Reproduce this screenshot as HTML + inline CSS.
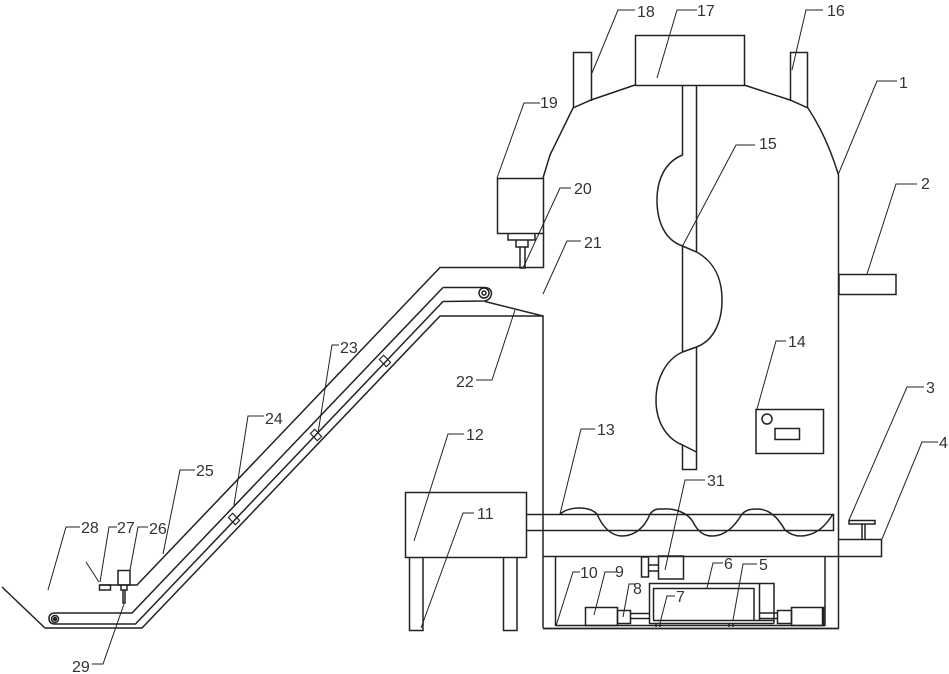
<!DOCTYPE html>
<html><head><meta charset="utf-8"><style>
html,body{margin:0;padding:0;background:#fff}
svg{display:block}
text{font-family:"Liberation Sans",sans-serif;font-size:16px;fill:#333}
.m{fill:none;stroke:#222;stroke-width:1.5}
.l{fill:none;stroke:#222;stroke-width:1}
</style></head><body>
<svg width="949" height="674" viewBox="0 0 949 674" xmlns="http://www.w3.org/2000/svg">
<g class="m">
<rect x="635.5" y="35.5" width="109" height="50"/>
<path d="M573.5 108V52.5H591.5V101"/>
<path d="M790.5 101V52.5H807.5V108"/>
<path d="M635 85L591 100L573 108L550 155L543 178"/>
<path d="M744 85L790 100L808 108Q827 137 838.500 175V628"/>
<rect x="497.500" y="178.500" width="46" height="55"/>
<path d="M508 233V240H535V233M516 240V247H528V240M520 247V268H525V247"/>
<path d="M543.500 233V267.500H440L137 585H100"/>
<rect x="99.500" y="585" width="11" height="5"/>
<rect x="118" y="570.500" width="12" height="14.500"/>
<path d="M121 585V590H127V585M123 590V603H125V590"/>
<path d="M443 287.500H485Q491 288 491.500 293Q491 300 484 301L443 301.500L135.500 624H55Q49 624 49 618.500Q49 613 55 613H132L443 287.500"/>
<path d="M543 628V316H440L142 628H45L2 587"/>
<path d="M543 628.500H839" stroke-width="1.800"/>
<path d="M485 301.500L543 316"/>
<circle cx="484" cy="293" r="5"/><circle cx="484" cy="293" r="2"/>
<circle cx="55" cy="619" r="3.500"/><circle cx="55" cy="619" r="1.500" fill="#222"/>
<path d="M682.500 85V155C665 162 657 180 657 200C657 222 665 240 682.500 246V352M696.500 85V252"/>
<path d="M682.500 246L696.500 252C715 262 722 280 722 300C722 320 715 340 696.500 347L682.500 352C665 360 656 380 656 400C656 420 665 438 682.500 445L696.500 452"/>
<path d="M696.500 347V469.500H682.500V445"/>
<rect x="839" y="274.500" width="57" height="20"/>
<rect x="756" y="409.500" width="67.500" height="44"/>
<circle cx="767" cy="419" r="5"/>
<rect x="775" y="428.500" width="24.500" height="11"/>
<rect x="405.500" y="492.500" width="121" height="65"/>
<path d="M409.500 557V630.500H423V557M503.500 557V630.500H517V557"/>
<path d="M526 514.500H833.500V530.500H526"/>
<path d="M560 514C568 507 588 505 597 514C603 528 612 536 622 536C635 536 645 527 650 514C655 508 658 509 663 509C675 508 688 513 693 522C698 532 704 536 712 536C725 536 735 526 742 514C746 510 750 509 757 509C770 509 778 518 785 530C790 534 795 536 800 536C815 536 825 527 833 514"/>
<path d="M543 556.500H881.500V539.500H839"/>
<path d="M849 520.500H875V524H849ZM862 524V539M865 524V539"/>
<path d="M555.500 556V626M825 556V626"/>
<path d="M555.500 625.500H825"/>
<rect x="658.500" y="556" width="25" height="23"/>
<rect x="641.500" y="557" width="7" height="20"/>
<path d="M648 565H658M648 571H658"/>
<path d="M649.500 623.500V583.500H774V623.500M653.500 620V588.500H754V620M759.500 583.500V620"/>
<path d="M649 623.500H774M653 620.500H774"/>
<path d="M656 623.500V627M660 623.500V627M729 623.500V627M733 623.500V627"/>
<rect x="585.500" y="607.500" width="32" height="18"/>
<rect x="617.500" y="610.500" width="13" height="13"/>
<path d="M630 613.500H649M630 618.500H649M759 613H777M759 618.500H777"/>
<rect x="777.500" y="610.500" width="14" height="13"/>
<rect x="791.500" y="607.500" width="32" height="18"/>
<path d="M823 607V625" stroke-width="2.500"/>
</g>
<g class="m" style="stroke-width:1.100">
<g transform="translate(316,435) rotate(46)"><rect x="-5" y="-3" width="10" height="6"/></g>
<g transform="translate(234,519) rotate(46)"><rect x="-5" y="-3" width="10" height="6"/></g>
<g transform="translate(385,361) rotate(46)"><rect x="-5" y="-3" width="10" height="6"/></g>
</g>
<g class="l">
<path d="M635 10H618L592 73"/>
<path d="M697 10H677L657 78"/>
<path d="M823 10H806L792 70"/>
<path d="M897 81H877L838 175"/>
<path d="M917 184H896L867 274"/>
<path d="M540 103H524L497 178"/>
<path d="M571 188H560L523 268"/>
<path d="M581 241H567L543 294"/>
<path d="M755 145H736L682 247"/>
<path d="M476 380H492L515 310"/>
<path d="M786 341H776L757 409"/>
<path d="M924 387H907L849 520"/>
<path d="M938 442H922L882 539"/>
<path d="M595 429H581L560 514"/>
<path d="M464 434H448L414 541"/>
<path d="M474 513H463L421 628"/>
<path d="M705 480H685L665 570"/>
<path d="M723 563H713L707 588"/>
<path d="M757 564H743L733 620"/>
<path d="M675 596H667L660 623"/>
<path d="M636 584H629L623 617"/>
<path d="M618 572H605L594 615"/>
<path d="M580 572H573L556 626"/>
<path d="M80 527H66L48 590"/>
<path d="M117 527H109L100 582"/>
<path d="M148 527H138L130 570"/>
<path d="M195 470H180L163 554"/>
<path d="M264 416H248L234 505"/>
<path d="M339 345H332L318 433"/>
<path d="M92 664H103L124 604"/>
<path d="M86 562L99 582"/>
</g>
<text x="637" y="17">18</text>
<text x="697" y="16">17</text>
<text x="827" y="16">16</text>
<text x="899" y="88">1</text>
<text x="921" y="189">2</text>
<text x="540" y="108">19</text>
<text x="574" y="194">20</text>
<text x="584" y="248">21</text>
<text x="759" y="149">15</text>
<text x="456" y="387">22</text>
<text x="788" y="347">14</text>
<text x="926" y="393">3</text>
<text x="939" y="448">4</text>
<text x="597" y="435">13</text>
<text x="466" y="440">12</text>
<text x="477" y="519">11</text>
<text x="707" y="486">31</text>
<text x="724" y="569">6</text>
<text x="759" y="570">5</text>
<text x="676" y="602">7</text>
<text x="633" y="594">8</text>
<text x="615" y="577">9</text>
<text x="580" y="578">10</text>
<text x="81" y="533">28</text>
<text x="117" y="533">27</text>
<text x="149" y="534">26</text>
<text x="196" y="476">25</text>
<text x="265" y="424">24</text>
<text x="340" y="353">23</text>
<text x="72" y="672">29</text>
</svg>
</body></html>
